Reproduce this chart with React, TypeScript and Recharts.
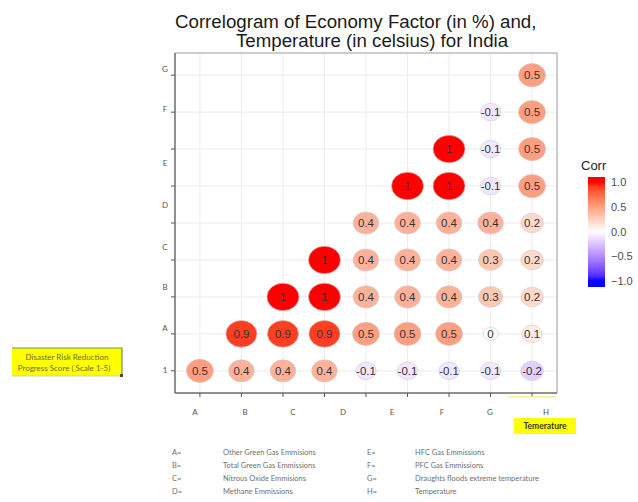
import { ScatterChart, Scatter, XAxis, YAxis, CartesianGrid, ReferenceArea } from 'recharts';

// correlation rows, bottom ("1") to top; null = empty upper cell
const corrRow1 = [0.5, 0.4, 0.4, 0.4, -0.1, -0.1, -0.1, -0.1, -0.2];
const corrRowA = [null, 0.9, 0.9, 0.9, 0.5, 0.5, 0.5, 0, 0.1];
const corrRowB = [null, null, 1, 1, 0.4, 0.4, 0.4, 0.3, 0.2];
const corrRowC = [null, null, null, 1, 0.4, 0.4, 0.4, 0.3, 0.2];
const corrRowD = [null, null, null, null, 0.4, 0.4, 0.4, 0.4, 0.2];
const corrRowE = [null, null, null, null, null, 1, 1, -0.1, 0.5];
const corrRowF = [null, null, null, null, null, null, 1, -0.1, 0.5];
const corrRowG = [null, null, null, null, null, null, null, -0.1, 0.5];
const corrRowTop = [null, null, null, null, null, null, null, null, 0.5];
const corrRows = [corrRow1, corrRowA, corrRowB, corrRowC, corrRowD, corrRowE, corrRowF, corrRowG, corrRowTop];

const gridTicks = [0, 1, 2, 3, 4, 5, 6, 7, 8];
const xLetters = ['A', 'B', 'C', 'D', 'E', 'F', 'G', 'H'];
const yLetters = ['1', 'A', 'B', 'C', 'D', 'E', 'F', 'G'];
const legendBreaks = [1, 0.5, 0, -0.5, -1];

const keyLeft = [
  ['A=', 'Other Green Gas Emmisions'],
  ['B=', 'Total Green Gas Emmissions'],
  ['C=', 'Nitrous Oxide Emmisions'],
  ['D=', 'Methane Emmissions'],
];
const keyRight = [
  ['E=', 'HFC Gas Emmissions'],
  ['F=', 'PFC Gas Emmissions'],
  ['G=', 'Draughts floods extreme temperature'],
  ['H=', 'Temperature'],
];

const points = corrRows.flatMap((row, y) =>
  row.flatMap((v, x) => (v === null ? [] : [{ x, y, v }]))
);

// blue - white - red ramp, interpolated in CIE Lab
type Vec = [number, number, number];
function toLab(hex: string): Vec {
  const c = [1, 3, 5].map((i) => parseInt(hex.slice(i, i + 2), 16) / 255);
  const [r, g, b] = c.map((u) => (u <= 0.04045 ? u / 12.92 : Math.pow((u + 0.055) / 1.055, 2.4)));
  const X = (0.4124 * r + 0.3576 * g + 0.1805 * b) / 0.95047;
  const Y = 0.2126 * r + 0.7152 * g + 0.0722 * b;
  const Z = (0.0193 * r + 0.1192 * g + 0.9505 * b) / 1.08883;
  const f = (t: number) => (t > 0.008856 ? Math.cbrt(t) : 7.787 * t + 16 / 116);
  return [116 * f(Y) - 16, 500 * (f(X) - f(Y)), 200 * (f(Y) - f(Z))];
}
function fromLab([L, a, bb]: Vec): string {
  const fy = (L + 16) / 116;
  const fx = fy + a / 500;
  const fz = fy - bb / 200;
  const inv = (t: number) => (t * t * t > 0.008856 ? t * t * t : (t - 16 / 116) / 7.787);
  const X = inv(fx) * 0.95047;
  const Y = inv(fy);
  const Z = inv(fz) * 1.08883;
  const lin = [
    3.2406 * X - 1.5372 * Y - 0.4986 * Z,
    -0.9689 * X + 1.8758 * Y + 0.0415 * Z,
    0.0557 * X - 0.204 * Y + 1.057 * Z,
  ];
  return (
    '#' +
    lin
      .map((u) => {
        const s = u <= 0.0031308 ? 12.92 * u : 1.055 * Math.pow(u, 1 / 2.4) - 0.055;
        return Math.round(Math.min(1, Math.max(0, s)) * 255).toString(16).padStart(2, '0');
      })
      .join('')
  );
}
const LAB_LOW = toLab('#0000FF');
const LAB_MID = toLab('#FFFFFF');
const LAB_HIGH = toLab('#FF0000');
function corrColor(v: number) {
  const end = v >= 0 ? LAB_HIGH : LAB_LOW;
  const t = Math.min(1, Math.abs(v));
  return fromLab(LAB_MID.map((m, i) => m + (end[i] - m) * t) as Vec);
}

const fmt = (v: number) => (v === 0 ? '0' : Number.isInteger(v) ? String(v) : v.toFixed(1));

function CorrCircle(props: any) {
  const { cx, cy, payload } = props;
  const rx = 7.5 + 8.5 * Math.sqrt(Math.abs(payload.v));
  return (
    <g>
      <ellipse cx={cx} cy={cy} rx={rx} ry={rx * 0.86} fill={corrColor(payload.v)} stroke="#c9c9c9" strokeWidth={0.6} />
      <text x={cx} y={cy + 4} textAnchor="middle" fontSize={11.5} fill="#333" fontFamily="'Liberation Sans', Arial, sans-serif">
        {fmt(payload.v)}
      </text>
    </g>
  );
}

const noLabel = () => <g />;

// colour bar geometry
const barTop = 177;
const barBottom = 287;
const barMid = 231.5;
const barHalf = 49.5;

export default function App() {
  const gradStops = Array.from({ length: 21 }, (_, i) => 1 - i * 0.1);
  return (
    <div style={{ position: 'absolute', left: 0, top: 0, width: 638, height: 502, background: '#fff' }}>
      <ScatterChart width={638} height={502} margin={{ top: 53, right: 81, bottom: 99, left: 165 }}>
        <CartesianGrid stroke="#ececec" />
        <XAxis
          type="number"
          dataKey="x"
          domain={[-0.6, 8.6]}
          ticks={gridTicks}
          interval={0}
          height={10}
          tick={noLabel}
          tickSize={4}
          axisLine={{ stroke: '#555' }}
          tickLine={{ stroke: '#555' }}
        />
        <YAxis
          type="number"
          dataKey="y"
          domain={[-0.6, 8.6]}
          ticks={gridTicks}
          interval={0}
          width={10}
          tick={noLabel}
          tickSize={4}
          axisLine={{ stroke: '#555' }}
          tickLine={{ stroke: '#555' }}
        />
        <ReferenceArea x1={-0.6} x2={8.6} y1={-0.6} y2={8.6} fill="none" stroke="#a5a5a5" />
        <Scatter data={points} shape={CorrCircle} isAnimationActive={false} />
      </ScatterChart>

      <svg width={638} height={502} style={{ position: 'absolute', left: 0, top: 0, pointerEvents: 'none' }}>
        <defs>
          <linearGradient id="corrBar" x1="0" y1="0" x2="0" y2="1">
            {gradStops.map((v) => (
              <stop key={v} offset={(barMid - v * barHalf - barTop) / (barBottom - barTop)} stopColor={corrColor(v)} />
            ))}
          </linearGradient>
        </defs>

        <g fontFamily="'Liberation Sans', Arial, sans-serif" fill="#1a1a1a" fontSize={18.7}>
          <text x={175} y={28}>Correlogram of Economy Factor (in %) and,</text>
          <text x={236} y={47}>Temperature (in celsius) for India</text>
        </g>

        {/* colour legend */}
        <text x={581} y={170} fontSize={13} fill="#222" fontFamily="'Liberation Sans', Arial, sans-serif">Corr</text>
        <rect x={588} y={barTop} width={17} height={barBottom - barTop} fill="url(#corrBar)" />
        {legendBreaks.map((v) => (
          <text key={v} x={611} y={barMid - v * barHalf + 4} fontSize={11} fill="#4d4d4d" fontFamily="'Liberation Sans', Arial, sans-serif">
            {v < 0 ? '\u2212' + Math.abs(v).toFixed(1) : v.toFixed(1)}
          </text>
        ))}

        {/* pasted axis letters */}
        <g fontFamily="Lato, 'Open Sans', sans-serif" fontSize={8} fill="#555" textAnchor="middle">
          {xLetters.map((l, i) => (
            <text key={'x' + l} x={[195, 245, 293, 343, 392, 442, 490, 546][i]} y={415}>{l}</text>
          ))}
          {yLetters.map((l, i) => (
            <text key={'y' + i} x={165} y={[373, 331, 290, 250, 208, 166, 112, 72][i]}>{l}</text>
          ))}
        </g>

        <rect x={508} y={396} width={47} height={1.5} fill="#f4ef9a" />
        <rect x={514} y={418} width={62} height={16} fill="#ffff00" />
        <text x={545} y={429} textAnchor="middle" fontSize={8.5} fontWeight={700} fill="#3a3a2a" fontFamily="Lato, sans-serif">Temerature</text>

        <rect x={12} y={348} width={110} height={28} fill="#ffff00" />
        <path d="M12 348 H122 V376" fill="none" stroke="#6f9a3c" strokeWidth={1.2} />
        <path d="M12 376 H122" fill="none" stroke="#b9d47a" strokeWidth={0.8} />
        <rect x={120} y={374} width={3} height={3} fill="#445" />
        <g fontFamily="Lato, sans-serif" fontSize={8} fill="#6b6b30" textAnchor="middle">
          <text x={67} y={360}>Disaster Risk Reduction</text>
          <text x={64} y={371}>Progress Score ( Scale 1-5)</text>
        </g>

        {/* variable key */}
        <g fontFamily="Lato, sans-serif" fontSize={7.5} fill="#707070">
          {keyLeft.map(([k, d], i) => (
            <g key={k}>
              <text x={172} y={455 + i * 13}>{k}</text>
              <text x={223} y={455 + i * 13}>{d}</text>
            </g>
          ))}
          {keyRight.map(([k, d], i) => (
            <g key={k}>
              <text x={367} y={455 + i * 13}>{k}</text>
              <text x={415} y={455 + i * 13}>{d}</text>
            </g>
          ))}
        </g>
      </svg>
    </div>
  );
}
